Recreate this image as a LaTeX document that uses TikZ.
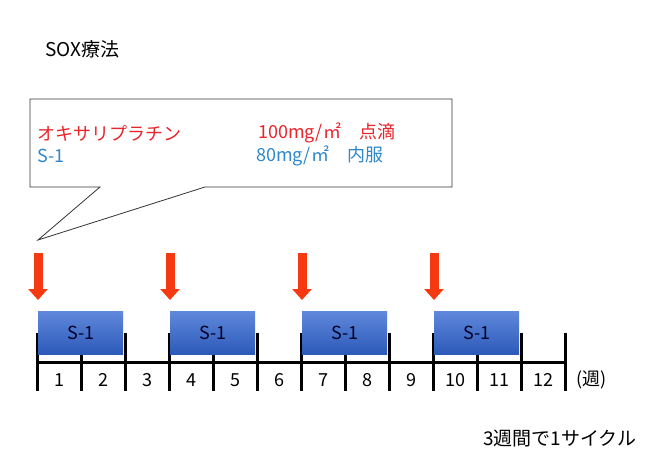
\documentclass[tikz,border=0pt]{standalone}
\usepackage{fontspec}
\setmainfont{Noto Sans CJK JP}
\usepackage{tikz}
\usetikzlibrary{positioning}
\usetikzlibrary{calc}
\usetikzlibrary{arrows.meta}

\definecolor{doseRed}{HTML}{E8242B}
\definecolor{doseBlue}{HTML}{2F87C9}
\definecolor{markRed}{HTML}{F53A12}
\definecolor{boxTop}{HTML}{6088DC}
\definecolor{boxBottom}{HTML}{2C5AB8}

\begin{document}
\begin{tikzpicture}[
		x=1pt, y=-1pt,
		every node/.style = {
			inner sep=0pt,
			font=\fontsize{18}{20}\selectfont
		},
		drugbox/.style = {
			shape=rectangle,
			minimum width=85pt,
			minimum height=43pt,
			anchor=north west,
			top color=boxTop,
			bottom color=boxBottom,
			text=black!85!blue
		},
		weekline/.style = {
			line width=3pt
		},
		dosemark/.style = {
			draw=markRed,
			line width=9pt,
			-{Triangle[width=19pt,length=11pt]}
		}
		]
		\useasboundingbox (0,0) rectangle (665,463);
		\node[anchor=west, font=\fontsize{19}{21}\selectfont] (title) at (45,49) {SOX療法};

		% callout
		\coordinate (tip) at (38,240);
		\draw[line width=0.8pt, draw=black!80] (30,99) -- (452,99) -- (452,187) -- (205,187) -- (tip) -- (100,187) -- (30,187) -- cycle;
		\node[anchor=west, text=doseRed] (oxa) at (37,133) {オキサリプラチン};
		\node[anchor=west, text=doseRed] (oxadose) at (258,133) {100mg/㎡　点滴};
		\node[anchor=west, text=doseBlue] (s1) at (37,156) {S-1};
		\node[anchor=west, text=doseBlue] (s1dose) at (256,156) {80mg/㎡　内服};

		% weeks
		\foreach \k in {0,...,12} {
			\draw[weekline] (37.5+44*\k,333) -- (37.5+44*\k,391);
		}
		\draw[weekline] (37.5,362) -- (565.5,362);
		\foreach \k in {1,...,12} {
			\node (w\k) at (15.5+44*\k,380) {\k};
		}
		\node[anchor=west] (unit) at (576,380) {(週)};

		% S-1 boxes and dosing marks
		\foreach \c in {0,1,2,3} {
			\node[drugbox] (box\c) at (38+132*\c,311) {S-1};
			\coordinate (mark\c) at (38+132*\c,253);
			\draw[dosemark] (mark\c) -- ([yshift=11pt]box\c.north west);
		}

		\node[anchor=west, font=\fontsize{19}{21}\selectfont] (cycle) at (483,439) {3週間で1サイクル};
	\end{tikzpicture}
\end{document}
